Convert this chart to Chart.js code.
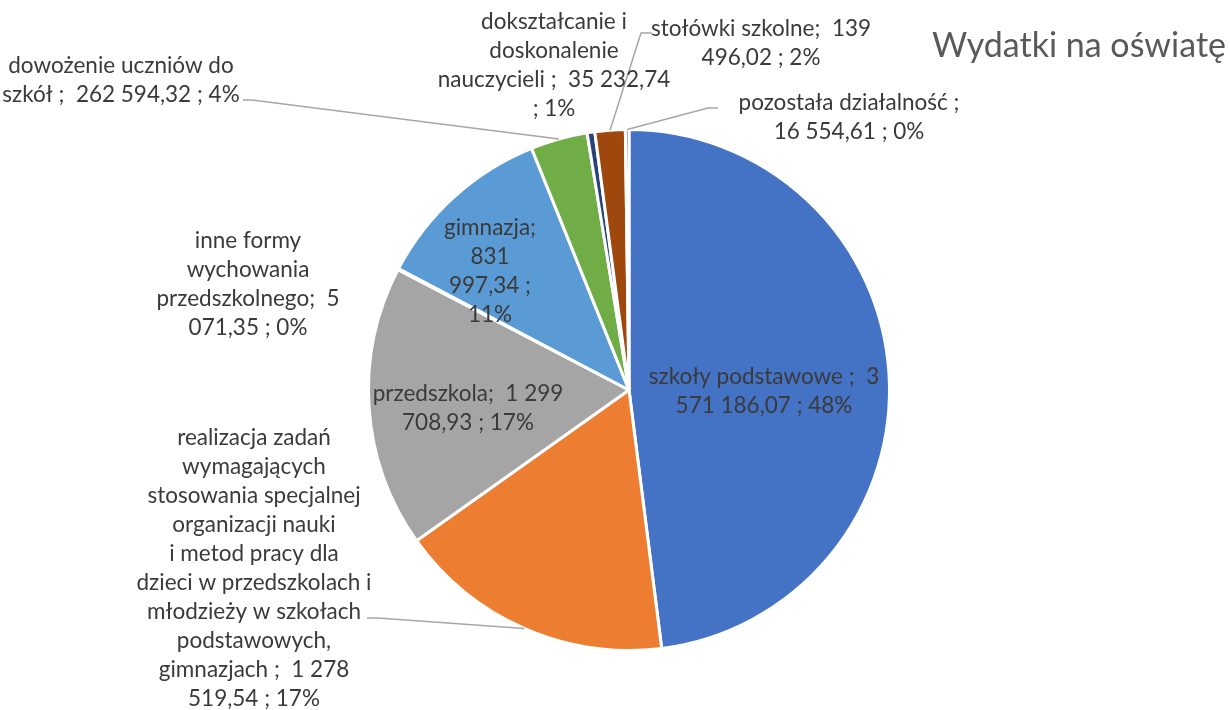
<!DOCTYPE html>
<html>
<head>
<meta charset="utf-8">
<script src="https://cdn.jsdelivr.net/npm/chart.js@4.4.0/dist/chart.umd.min.js"></script>
<style>
  html, body { margin: 0; padding: 0; background: #fff; }
  #wrap { width: 1230px; height: 710px; }
</style>
</head>
<body>
<div id="wrap"><canvas id="js-pie-chart"></canvas></div>
<script>
// data ("\n" = forced break as in the original labels)
const categories = [
  "szkoły podstawowe ",
  "realizacja zadań wymagających stosowania specjalnej organizacji nauki\ni metod pracy dla\ndzieci w przedszkolach i młodzieży w szkołach podstawowych, gimnazjach ",
  "przedszkola",
  "inne formy wychowania przedszkolnego",
  "gimnazja",
  "dowożenie uczniów do szkół ",
  "dokształcanie i doskonalenie\nnauczycieli ",
  "stołówki szkolne",
  "pozostała działalność ",
];
const values = [
  3571186.07, 1278519.54, 1299708.93, 5071.35, 831997.34, 262594.32, 35232.74,
  139496.02, 16554.61,
];
const sliceColors = [
  "#4472C4", "#ED7D31", "#A5A5A5", "#FFC000", "#5B9BD5", "#70AD47", "#264478",
  "#9E480E", "#636363",
];
const chartTitle = "Wydatki na oświatę";

// label placement (x = centre of text, y = middle of first line, w = wrap width)
const labelSpots = [
  { x: 764, y: 377, w: 235 },
  { x: 254, y: 438, w: 240, lead: [367, 618, 378] },
  { x: 468, y: 394, w: 200 },
  { x: 248, y: 241, w: 190 },
  { x: 490, y: 228, w: 100 },
  { x: 121, y: 66, w: 250, lead: [243, 100, 252] },
  { x: 554, y: 22, w: 238 },
  { x: 761, y: 29, w: 225, lead: [652, 33, 641] },
  { x: 849, y: 103, w: 250, lead: [718, 108, 708] },
];

const lineH = 29;
const total = values.reduce((a, b) => a + b, 0);

// whole percents that add up to 100 (largest remainder)
function roundedPercents(vals) {
  const raw = vals.map((v) => (v / total) * 100);
  const pcs = raw.map(Math.floor);
  let left = 100 - pcs.reduce((a, b) => a + b, 0);
  raw
    .map((r, i) => [r - Math.floor(r), i])
    .sort((a, b) => b[0] - a[0])
    .forEach(([, i]) => {
      if (left > 0) {
        pcs[i] += 1;
        left--;
      }
    });
  return pcs;
}
const percents = roundedPercents(values);

function formatPL(v) {
  const parts = v.toFixed(2).split(".");
  const intPart = parts[0].replace(/\B(?=(\d{3})+(?!\d))/g, " ");
  return intPart + "," + parts[1];
}

function labelText(i) {
  return categories[i] + ";  " + formatPL(values[i]) + " ; " + percents[i] + "%";
}

function wrapText(ctx, text, maxW) {
  const out = [];
  text.split("\n").forEach((para) => {
    const words = para.split(" ");
    let line = "";
    words.forEach((wd, k) => {
      const test = k === 0 ? wd : line + " " + wd;
      if (line.trim() !== "" && ctx.measureText(test.trim()).width > maxW) {
        out.push(line.trim());
        line = wd;
      } else {
        line = test;
      }
    });
    if (line.trim() !== "") out.push(line.trim());
  });
  return out;
}

const pieLabels = {
  id: "pieLabels",
  afterDraw(chart) {
    const { ctx } = chart;
    const arcs = chart.getDatasetMeta(0).data;
    ctx.save();

    // leader lines
    ctx.strokeStyle = "#A6A6A6";
    ctx.lineWidth = 1.5;
    arcs.forEach((arc, i) => {
      const lead = labelSpots[i].lead;
      if (!lead) return;
      const mid = (arc.startAngle + arc.endAngle) / 2;
      const ex = arc.x + Math.cos(mid) * arc.outerRadius;
      const ey = arc.y + Math.sin(mid) * arc.outerRadius;
      ctx.beginPath();
      ctx.moveTo(lead[0], lead[1]);
      ctx.lineTo(lead[2], lead[1]);
      ctx.lineTo(ex, ey);
      ctx.stroke();
    });

    // label text
    ctx.font = "22.5px Lato";
    ctx.fillStyle = "#3a3a3a";
    ctx.textAlign = "center";
    ctx.textBaseline = "middle";
    arcs.forEach((arc, i) => {
      const spot = labelSpots[i];
      const lines = wrapText(ctx, labelText(i), spot.w);
      lines.forEach((ln, k) => ctx.fillText(ln, spot.x, spot.y + k * lineH));
    });

    // title
    ctx.font = "34px Lato";
    ctx.fillStyle = "#595959";
    ctx.textAlign = "left";
    ctx.fillText(chartTitle, 932, 46);
    ctx.restore();
  },
};

const pieChart = document.getElementById("js-pie-chart");

const myPieChart = new Chart(pieChart, {
  type: "pie",
  data: {
    labels: categories,
    datasets: [
      {
        label: chartTitle,
        data: values,
        backgroundColor: sliceColors,
        borderColor: "#ffffff",
        borderWidth: 3,
      },
    ],
  },
  options: {
    responsive: true,
    maintainAspectRatio: false,
    animation: false,
    events: [],
    layout: {
      padding: { left: 367, right: 339, top: 128, bottom: 58 },
    },
    plugins: {
      legend: { display: false },
      tooltip: { enabled: false },
      title: { display: false },
    },
  },
  plugins: [pieLabels],
});
</script>
</body>
</html>
